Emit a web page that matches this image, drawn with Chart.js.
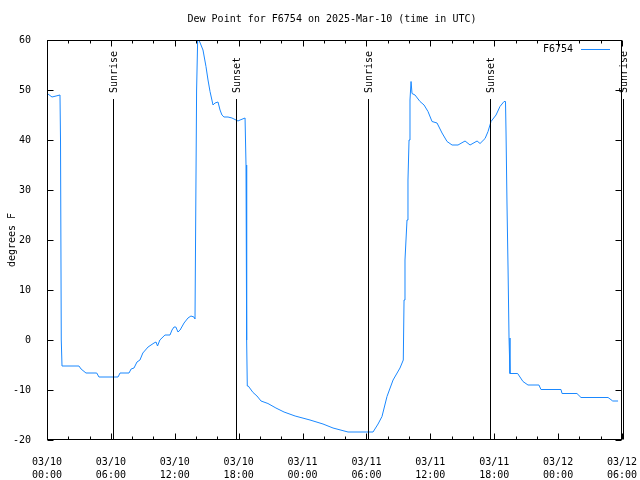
<!DOCTYPE html>
<html><head><meta charset="utf-8">
<script src="https://cdn.jsdelivr.net/npm/chart.js@4"></script>
<style>html,body{margin:0;padding:0;background:#fff;}#wrap{width:640px;height:480px;}</style>
</head><body><div id="wrap"><canvas id="c" width="640" height="480"></canvas></div>
<script>
// Hours since 03/10 00:00 UTC
const hours = [0.09,0.47,0.85,1.22,1.27,1.34,1.41,3.0,3.2,3.66,4.67,4.88,6.67,6.86,7.7,7.9,8.17,8.45,8.73,9.0,
  9.49,10.05,10.24,10.38,10.6,11.08,11.55,11.74,11.93,12.1,12.3,12.5,12.87,13.24,13.52,13.8,13.9,14.05,14.15,14.27,
  14.46,14.65,14.93,15.12,15.31,15.59,15.78,16.06,16.25,16.43,16.62,17.0,17.37,17.75,17.94,18.13,18.6,18.69,18.75,18.81,
  18.9,19.35,19.72,20.1,20.75,21.5,22.26,23.3,24.7,25.92,26.86,28.27,30.62,31.09,31.46,31.93,32.5,33.15,33.46,33.53,
  33.62,33.81,33.9,34.0,34.09,34.19,34.28,34.56,35.03,35.41,35.78,36.16,36.63,37.1,37.57,38.04,38.6,39.26,39.73,40.39,
  40.67,41.14,41.42,41.7,42.17,42.54,42.92,43.06,43.11,43.2,43.3,43.39,43.48,44.2,44.7,45.17,46.2,46.39,48.27,48.37,
  49.77,50.15,52.69,53.13,53.63];
const dewPoint = [49.2,48.6,48.8,49.0,39.8,0,-5.2,-5.2,-5.8,-6.6,-6.6,-7.4,-7.4,-6.6,-6.6,-5.8,-5.6,-4.4,-4.0,-2.6,
  -1.4,-0.6,-0.4,-1.2,0,1,1,2,2.6,2.6,1.6,2.0,3.4,4.4,4.8,4.6,4.2,50,60,60,
  59,58,54.7,52,49.7,47,47.4,47.6,46,45,44.6,44.6,44.4,44.0,43.8,44,44.4,35,0,-9.2,
  -9.2,-10.5,-11.2,-12.2,-12.7,-13.6,-14.4,-15.2,-16,-16.8,-17.6,-18.4,-18.4,-16.8,-15.3,-11.3,-8,-5.6,-4,8,
  16,24,32,40,48,51.7,49.3,49,47.7,47,45.7,43.7,43.4,41.4,39.7,39,39,39.8,39,39.8,
  39.3,40.3,41.7,43.7,45,46.7,47.7,47.7,41.4,27,14,0.4,-6.7,-6.7,-8.3,-9,-9,-9.9,-9.9,-10.7,
  -10.7,-11.5,-11.5,-12.2,-12.2];
const xTickLabels = [["03/10","00:00"],["03/10","06:00"],["03/10","12:00"],["03/10","18:00"],["03/11","00:00"],
  ["03/11","06:00"],["03/11","12:00"],["03/11","18:00"],["03/12","00:00"],["03/12","06:00"]];
const sunEventHours = [6.2, 17.72, 30.18, 41.62, 54.1];
const sunEventLabels = ["Sunrise","Sunset","Sunrise","Sunset","Sunrise"];
const seriesName = "F6754";
const chartTitle = "Dew Point for F6754 on 2025-Mar-10 (time in UTC)";
const yAxisTitle = "degrees F";

const FONT = "'DejaVu Sans Mono', 'Liberation Mono', monospace";
const LINE_COLOR = "#1a88ff";

const gnuFrame = {
  id: 'gnuFrame',
  afterDatasetsDraw(chart) {
    const ctx = chart.ctx, a = chart.chartArea;
    const xs = chart.scales.x, ys = chart.scales.y;
    const L = Math.round(a.left) + 0.5, R = Math.round(a.right) - 0.5;
    const T = Math.round(a.top) + 0.5, B = Math.round(a.bottom) - 0.5;
    ctx.save();
    ctx.strokeStyle = '#000'; ctx.lineWidth = 1;
    ctx.font = '10px ' + FONT; ctx.fillStyle = '#000';
    // title
    ctx.textAlign = 'center'; ctx.textBaseline = 'middle';
    ctx.fillText(chartTitle, 332, 19);
    // sun events
    sunEventHours.forEach((h, i) => {
      const x = Math.round(xs.getPixelForValue(h)) + 0.5;
      const yTop = Math.round(ys.getPixelForValue(48.3));
      ctx.beginPath(); ctx.moveTo(x, yTop); ctx.lineTo(x, B); ctx.stroke();
      ctx.save();
      ctx.translate(x + 1, yTop - 6);
      ctx.rotate(-Math.PI / 2);
      ctx.textAlign = 'left'; ctx.textBaseline = 'middle';
      ctx.fillText(sunEventLabels[i], 0, 0);
      ctx.restore();
    });
    // border
    ctx.strokeRect(L, T, R - L, B - T);
    // x ticks (major every 6h, minor every 2h), mirrored
    for (let h = 0; h <= 54; h += 2) {
      const x = Math.round(xs.getPixelForValue(h)) + 0.5;
      const len = (h % 6 === 0) ? 6 : 3;
      ctx.beginPath();
      ctx.moveTo(x, B); ctx.lineTo(x, B - len);
      ctx.moveTo(x, T); ctx.lineTo(x, T + len);
      ctx.stroke();
    }
    for (let v = -20; v <= 60; v += 10) {
      const y = Math.round(ys.getPixelForValue(v)) + 0.5;
      ctx.beginPath();
      ctx.moveTo(L, y); ctx.lineTo(L + 6, y);
      ctx.moveTo(R, y); ctx.lineTo(R - 6, y);
      ctx.stroke();
    }
    // legend
    ctx.textAlign = 'right'; ctx.textBaseline = 'middle';
    ctx.fillText(seriesName, 573, 49);
    ctx.strokeStyle = LINE_COLOR;
    ctx.beginPath(); ctx.moveTo(581, 49.5); ctx.lineTo(610, 49.5); ctx.stroke();
    ctx.restore();
  }
};

new Chart(document.getElementById('c'), {
  type: 'line',
  data: {
    datasets: [{
      label: seriesName,
      data: hours.map((h, i) => ({x: h, y: dewPoint[i]})),
      borderColor: LINE_COLOR,
      borderWidth: 1,
      pointRadius: 0,
      tension: 0,
      fill: false
    }]
  },
  options: {
    responsive: false,
    devicePixelRatio: 1,
    animation: false,
    layout: {padding: {left: 0, right: 18, top: 40, bottom: 0}},
    plugins: {
      legend: {display: false},
      tooltip: {enabled: false},
      title: {display: false}
    },
    scales: {
      x: {
        type: 'linear', min: 0, max: 54,
        grid: {display: false}, border: {display: false},
        ticks: {
          stepSize: 6, autoSkip: false, maxRotation: 0, minRotation: 0,
          color: '#000', padding: 8,
          font: {family: FONT, size: 10, lineHeight: 1.3},
          callback: (v) => xTickLabels[Math.round(v / 6)]
        },
        afterFit: (s) => { s.height = 40; s.paddingLeft = 0; s.paddingRight = 0; }
      },
      y: {
        min: -20, max: 60,
        grid: {display: false}, border: {display: false},
        ticks: {stepSize: 10, color: '#000', padding: 8, font: {family: FONT, size: 10}},
        title: {display: true, text: yAxisTitle, color: '#000',
          font: {family: FONT, size: 10, lineHeight: 1.2}, padding: {top: 6, bottom: 0}},
        afterFit: (s) => { s.width = 47; s.paddingTop = 0; s.paddingBottom = 0; }
      }
    }
  },
  plugins: [gnuFrame]
});
</script>
</body></html>
